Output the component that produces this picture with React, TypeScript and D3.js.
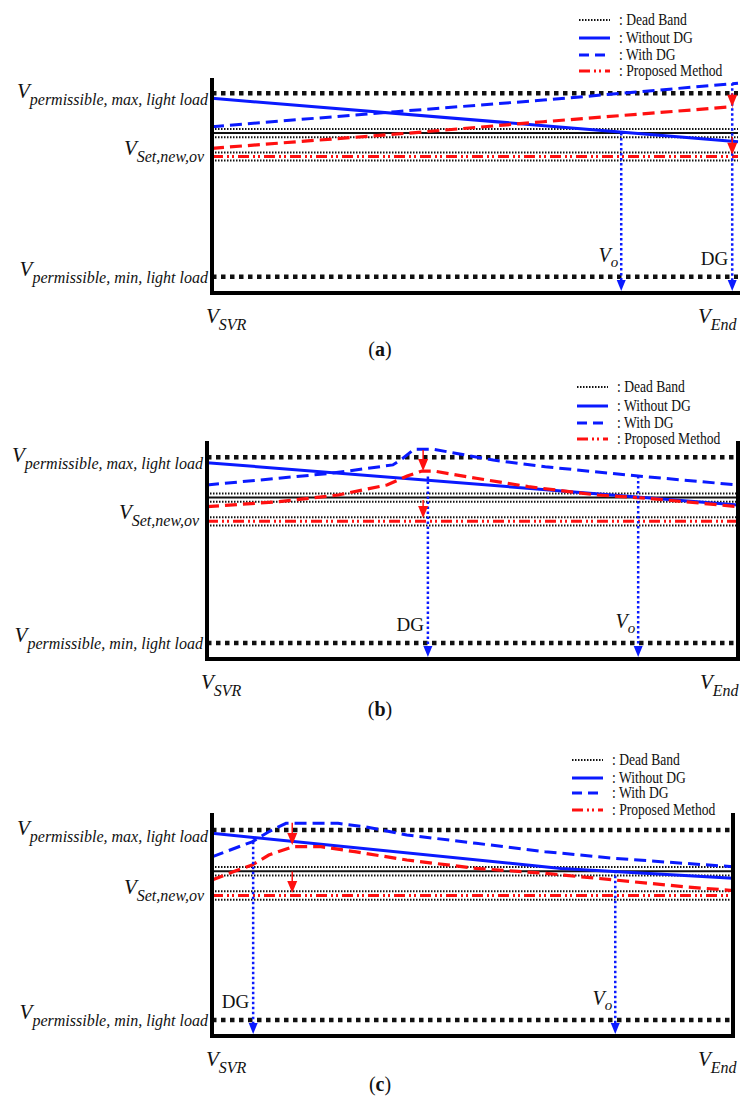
import React from 'react';
import * as d3 from 'd3';

// voltage levels (p.u.)
const V_MAX = 1.05;
const V_MIN = 0.95;
const V_SET = 1.0283;
const V_SET_NEW = 1.0155;
const DEAD_BAND = 0.0022;

// panel (a): DG at feeder end
const aWithoutX = [0, 1];
const aWithoutV = [1.0473, 1.0236];
const aWithX = [0, 0.35, 0.63, 1];
const aWithV = [1.0318, 1.04, 1.0463, 1.0555];
const aPropX = [0, 0.37, 0.63, 0.99];
const aPropV = [1.02, 1.0282, 1.0345, 1.0427];

// panel (b): DG in the middle
const bWithoutX = [0, 1];
const bWithoutV = [1.0471, 1.0243];
const bWithX = [0, 0.234, 0.35, 0.369, 0.39, 0.427, 0.539, 0.637, 0.812, 1];
const bWithV = [1.0351, 1.0414, 1.0459, 1.0495, 1.0543, 1.0543, 1.0485, 1.0449, 1.0399, 1.0351];
const bPropX = [0, 0.136, 0.247, 0.339, 0.377, 0.405, 0.427, 0.507, 0.605, 0.735, 0.831, 1];
const bPropV = [1.0234, 1.0261, 1.0297, 1.0351, 1.0399, 1.0426, 1.0426, 1.0387, 1.0342, 1.0297, 1.0279, 1.0234];

// panel (c): DG near the regulator
const cWithoutX = [0, 0.67, 1];
const cWithoutV = [1.0483, 1.0298, 1.0246];
const cWithX = [0, 0.077, 0.109, 0.142, 0.242, 0.294, 0.374, 0.507, 0.639, 0.772, 0.904, 1];
const cWithV = [1.0359, 1.0438, 1.0491, 1.0535, 1.0535, 1.0517, 1.0474, 1.043, 1.0386, 1.0351, 1.0325, 1.0307];
const cPropX = [0, 0.042, 0.077, 0.109, 0.155, 0.209, 0.274, 0.374, 0.507, 0.639, 0.772, 0.904, 1];
const cPropV = [1.0237, 1.0281, 1.0316, 1.0368, 1.0412, 1.0412, 1.0386, 1.0342, 1.0298, 1.0272, 1.0237, 1.0202, 1.0181];

// [position, top voltage] of the DG and V_o markers
const dgMarks = [[0.989, 1.0555], [0.416, 1.0397], [0.079, 1.0438]];
const voMarks = [[0.778, 1.0283], [0.812, 1.0399], [0.774, 1.0286]];
// red arrows: [position, from, to] x2
const redArrows = [
  [[0.989, 1.05, 1.0427], [0.989, 1.0262, 1.0165]],
  [[0.407, 1.0539, 1.0426], [0.407, 1.027, 1.0173]],
  [[0.154, 1.0538, 1.0421], [0.154, 1.0281, 1.0168]],
];

const legendLabels = [': Dead Band', ': Without DG', ': With DG', ': Proposed Method'];
const captions = ['a', 'b', 'c'];

const layouts = [
  { left: 212, right: 738, top: 78, bottom: 293, yTop: 93.3, yBot: 276.7, rightAxis: false, legendX: 579, legendY: [20, 38, 55, 71], captionY: 356, endX: 698 },
  { left: 207, right: 738, top: 441, bottom: 659, yTop: 457.3, yBot: 643, rightAxis: true, legendX: 577, legendY: [387, 406, 423, 439], captionY: 716, endX: 700 },
  { left: 212, right: 733, top: 813, bottom: 1036, yTop: 830, yBot: 1020, rightAxis: true, legendX: 572, legendY: [760, 778, 793, 810], captionY: 1091, endX: 698 },
];

const series = [
  { withoutX: aWithoutX, withoutV: aWithoutV, withX: aWithX, withV: aWithV, propX: aPropX, propV: aPropV },
  { withoutX: bWithoutX, withoutV: bWithoutV, withX: bWithX, withV: bWithV, propX: bPropX, propV: bPropV },
  { withoutX: cWithoutX, withoutV: cWithoutV, withX: cWithX, withV: cWithV, propX: cPropX, propV: cPropV },
];

const BLUE = '#0a1aff';
const RED = '#ff1010';
const MATH = '"Liberation Serif", serif';
const DASH_DOT = '11,4,2,3,2,4';

const zip = (xs: number[], vs: number[]) => xs.map((x, i) => [x, vs[i]] as [number, number]);

function Sub({ x, y, main, sub, anchor = 'start', size = 21, subSize = 16, dy = 7 }: any) {
  return (
    <text x={x} y={y} textAnchor={anchor} fontFamily={MATH} fontStyle="italic" fill="#111">
      <tspan fontSize={size}>{main}</tspan>
      <tspan fontSize={subSize} dy={dy}>{sub}</tspan>
    </text>
  );
}

function Panel({ idx }: { idx: number }) {
  const L = layouts[idx];
  const s = series[idx];
  const x = d3.scaleLinear().domain([0, 1]).range([L.left, L.right]);
  const y = d3.scaleLinear().domain([V_MIN, V_MAX]).range([L.yBot, L.yTop]);
  const line = d3.line<[number, number]>().x(d => x(d[0])).y(d => y(d[1]));

  const hLine = (v: number, stroke: string, width: number, dash?: string) => (
    <line x1={L.left} x2={L.right} y1={y(v)} y2={y(v)} stroke={stroke} strokeWidth={width} strokeDasharray={dash} />
  );

  const dg = dgMarks[idx];
  const vo = voMarks[idx];
  const blueArrow = (pos: number, top: number, key: string) => {
    const px = x(pos);
    const tip = L.bottom - 2;
    return (
      <g key={key}>
        <line x1={px} x2={px} y1={y(top)} y2={tip - 10} stroke={BLUE} strokeWidth={2.5} strokeDasharray="2.5,2.5" />
        <path d={`M${px - 4.5},${tip - 11}L${px + 4.5},${tip - 11}L${px},${tip}Z`} fill={BLUE} />
      </g>
    );
  };

  const legendStyles = [
    { stroke: '#111', width: 2, dash: '1.5,1.5' },
    { stroke: BLUE, width: 3, dash: undefined },
    { stroke: BLUE, width: 3, dash: '10,6' },
    { stroke: RED, width: 3, dash: DASH_DOT },
  ];

  return (
    <g>
      {/* dead bands */}
      {hLine(V_SET + DEAD_BAND, '#111', 2, '1.5,1.5')}
      {hLine(V_SET, '#111', 2)}
      {hLine(V_SET - DEAD_BAND, '#111', 2, '1.5,1.5')}
      {hLine(V_SET_NEW + DEAD_BAND, '#111', 2, '1.5,1.5')}
      {hLine(V_SET_NEW - DEAD_BAND, '#111', 2, '1.5,1.5')}
      {hLine(V_SET_NEW, RED, 3, DASH_DOT)}
      {/* permissible limits */}
      {hLine(V_MAX, '#111', 4.5, '4.5,4.5')}
      {hLine(V_MIN, '#111', 4.5, '4.5,4.5')}

      {/* voltage profiles */}
      <path d={line(zip(s.withoutX, s.withoutV)) || ''} fill="none" stroke={BLUE} strokeWidth={3} />
      <path d={line(zip(s.withX, s.withV)) || ''} fill="none" stroke={BLUE} strokeWidth={3} strokeDasharray="12,6" />
      <path d={line(zip(s.propX, s.propV)) || ''} fill="none" stroke={RED} strokeWidth={3.2} strokeDasharray="12,6" />

      {/* markers */}
      {blueArrow(dg[0], dg[1], 'dg')}
      {blueArrow(vo[0], vo[1], 'vo')}
      {redArrows[idx].map(([pos, from, to], i) => {
        const px = x(pos);
        return (
          <g key={'r' + i}>
            <line x1={px} x2={px} y1={y(from)} y2={y(to) - 10} stroke={RED} strokeWidth={1.5} />
            <path d={`M${px - 5},${y(to) - 12}L${px + 5},${y(to) - 12}L${px},${y(to)}Z`} fill={RED} />
          </g>
        );
      })}
      <text x={x(dg[0]) - 4} y={L.yBot - 12} textAnchor="end" fontFamily={MATH} fontSize={19} fill="#111">DG</text>
      <Sub x={x(vo[0]) - 3} y={L.yBot - 15} main="V" sub="o" anchor="end" size={20} subSize={15} dy={5} />

      {/* axes */}
      <line x1={L.left} x2={L.left} y1={L.top} y2={L.bottom + 2} stroke="#000" strokeWidth={4} />
      <line x1={L.left - 2} x2={L.rightAxis ? L.right + 2 : 740} y1={L.bottom} y2={L.bottom} stroke="#000" strokeWidth={4} />
      {L.rightAxis && <line x1={L.right} x2={L.right} y1={L.top} y2={L.bottom + 2} stroke="#000" strokeWidth={4} />}

      {/* labels */}
      <Sub x={L.left - 4} y={y(V_MAX) + 5} main="V" sub="permissible, max, light load" anchor="end" />
      <Sub x={L.left - 8} y={y(V_SET_NEW) - 2} main="V" sub="Set,new,ov" anchor="end" />
      <Sub x={L.left - 4} y={y(V_MIN) - 1} main="V" sub="permissible, min, light load" anchor="end" />
      <Sub x={L.left - 6} y={L.bottom + 30} main="V" sub="SVR" />
      <Sub x={L.endX} y={L.bottom + 30} main="V" sub="End" />

      {/* legend */}
      {legendLabels.map((lab, i) => (
        <g key={lab}>
          <line x1={L.legendX} x2={L.legendX + 31} y1={L.legendY[i]} y2={L.legendY[i]}
            stroke={legendStyles[i].stroke} strokeWidth={legendStyles[i].width} strokeDasharray={legendStyles[i].dash} />
          <text transform={`translate(${L.legendX + 40},${L.legendY[i] + 5}) scale(0.85,1)`}
            fontFamily={MATH} fontSize={16} fill="#111">{lab}</text>
        </g>
      ))}

      {/* caption */}
      <text x={380} y={L.captionY} textAnchor="middle" fontFamily={MATH} fontSize={20} fill="#111">
        (<tspan fontWeight="bold">{captions[idx]}</tspan>)
      </text>
    </g>
  );
}

export default function App() {
  return (
    <svg width={740} height={1111} style={{ position: 'absolute', left: 0, top: 0, background: '#fff' }}>
      <rect width={740} height={1111} fill="#fff" />
      {layouts.map((_, i) => <Panel key={i} idx={i} />)}
    </svg>
  );
}
